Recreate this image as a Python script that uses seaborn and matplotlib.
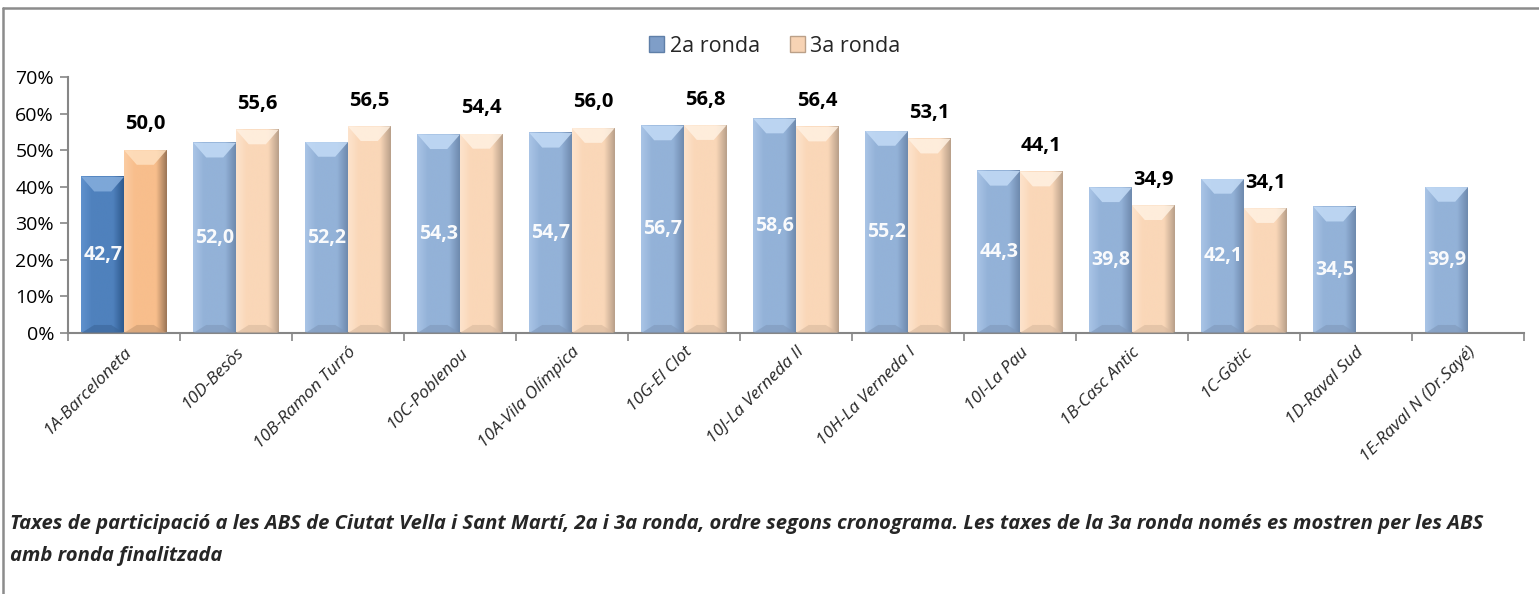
import numpy as np
import pandas as pd
import seaborn as sns
import matplotlib.pyplot as plt
from matplotlib.patches import Polygon, Patch
from matplotlib.lines import Line2D
from matplotlib.ticker import FixedLocator, FuncFormatter

# data
centres = ["1A-Barceloneta", "10D-Besòs", "10B-Ramon Turró", "10C-Poblenou",
           "10A-Vila Olímpica", "10G-El Clot", "10J-La Verneda II",
           "10H-La Verneda I", "10I-La Pau", "1B-Casc Antic", "1C-Gòtic",
           "1D-Raval Sud", "1E-Raval N (Dr.Sayé)"]
ronda2 = [42.7, 52.0, 52.2, 54.3, 54.7, 56.7, 58.6, 55.2, 44.3, 39.8, 42.1, 34.5, 39.9]
ronda3 = [50.0, 55.6, 56.5, 54.4, 56.0, 56.8, 56.4, 53.1, 44.1, 34.9, 34.1, np.nan, np.nan]
series = ["2a ronda", "3a ronda"]
yticks = [0, 10, 20, 30, 40, 50, 60, 70]
caption = ("Taxes de participació a les ABS de Ciutat Vella i Sant Martí, 2a i 3a ronda, "
           "ordre segons cronograma. Les taxes de la 3a ronda només es mostren per les ABS\n"
           "amb ronda finalitzada")

df = pd.DataFrame({
    "centre": centres * 2,
    "taxa": ronda2 + ronda3,
    "ronda": [series[0]] * len(centres) + [series[1]] * len(centres),
})

sns.set_theme(style="white")
plt.rcParams["font.family"] = ["Open Sans", "DejaVu Sans"]

W, H = 1539, 594
fig = plt.figure(figsize=(W / 100, H / 100), dpi=100)
ax = fig.add_axes([68 / W, 1 - 333 / H, (1524 - 68) / W, (333 - 77) / H])

sns.barplot(data=df, x="centre", y="taxa", hue="ronda", order=centres,
            hue_order=series, width=0.76, palette=["#95B3D7", "#FCD5B5"],
            ax=ax, legend=False)

# bevelled bar look: (main, light edge, dark edge, top, bottom)
tones = {
    "blue": ("#93B2D8", "#A9C4E6", "#6F8AAE", "#C3DBF6", "#7F98BA"),
    "blue_hi": ("#4F81BD", "#5F91CD", "#2E5A8E", "#86AEDD", "#3B6699"),
    "peach": ("#FAD7B8", "#FDE3CC", "#B9A08A", "#FFF1E2", "#D8B99E"),
    "peach_hi": ("#F8BE8C", "#FBCCA2", "#9C7657", "#FFE0BF", "#C99A72"),
}


def bevel(bar, key):
    main, light, dark, top, bottom = tones[key]
    x0, y0 = bar.get_x(), bar.get_y()
    w, h = bar.get_width(), bar.get_height()
    bar.set_visible(False)
    # horizontal shading across the bar
    cols = [light, main, main, main, dark]
    rgb = np.array([plt.matplotlib.colors.to_rgb(c) for c in cols])
    xs = np.linspace(0, 1, rgb.shape[0])
    xx = np.linspace(0, 1, 60)
    img = np.stack([np.interp(xx, xs, rgb[:, k]) for k in range(3)], axis=-1)[None, :, :]
    ax.imshow(img, extent=[x0, x0 + w, y0, y0 + h], aspect="auto",
              interpolation="bicubic", zorder=2)
    # bevel sizes in data units
    bx = w * 0.30
    by = min(h * 0.5, 4.0)
    ax.add_patch(Polygon([(x0, y0 + h), (x0 + w, y0 + h), (x0 + w - bx, y0 + h - by),
                          (x0 + bx, y0 + h - by)], closed=True, fc=top, ec="none",
                         alpha=0.85, zorder=3))
    ax.add_patch(Polygon([(x0, y0), (x0 + w, y0), (x0 + w - bx, y0 + 2.2),
                          (x0 + bx, y0 + 2.2)], closed=True, fc=bottom, ec="none",
                         alpha=0.6, zorder=3))


for i, bar in enumerate(ax.containers[0]):
    bevel(bar, "blue_hi" if i == 0 else "blue")
    v = ronda2[i]
    ax.text(bar.get_x() + bar.get_width() / 2, v / 2, f"{v:.1f}".replace(".", ","),
            ha="center", va="center", color="white", fontsize=14,
            fontweight="bold", alpha=0.95, zorder=5)

for i, bar in enumerate(ax.containers[1]):
    if np.isnan(bar.get_height()):
        continue
    bevel(bar, "peach_hi" if i == 0 else "peach")
    v = bar.get_height()
    ax.text(bar.get_x() + bar.get_width() / 2, v + 4.3, f"{v:.1f}".replace(".", ","),
            ha="center", va="bottom", color="black", fontsize=14.5,
            fontweight="bold", zorder=5)

ax.set_xlim(-0.5, len(centres) - 0.5)
ax.set_ylim(0, 70)
ax.set_yticks(yticks)
ax.yaxis.set_major_formatter(FuncFormatter(lambda v, p: f"{v:.0f}%"))
ax.set_xlabel("")
ax.set_ylabel("")
ax.tick_params(axis="y", which="major", direction="out", length=6, width=1.2,
               color="#868686", labelsize=14, labelcolor="black", pad=4, left=True)
ax.set_xticks(range(len(centres)))
ax.set_xticklabels(centres, rotation=45, ha="right", rotation_mode="anchor",
                   fontsize=12.5, fontstyle="italic")
ax.xaxis.set_minor_locator(FixedLocator(np.arange(-0.5, len(centres), 1)))
ax.tick_params(axis="x", which="major", length=0, pad=8)
ax.tick_params(axis="x", which="minor", direction="out", length=6, width=1.2,
               color="#868686", bottom=True)
for s in ["top", "right"]:
    ax.spines[s].set_visible(False)
for s in ["left", "bottom"]:
    ax.spines[s].set_color("#868686")
    ax.spines[s].set_linewidth(1.5)

handles = [Patch(facecolor="#7F9EC8", edgecolor="#5F7FA8"),
           Patch(facecolor="#F7D3B4", edgecolor="#BBA088")]
fig.legend(handles, series, loc="center", bbox_to_anchor=(775 / W, 1 - 46 / H),
           ncol=2, frameon=False, fontsize=15.5, handlelength=0.7, handleheight=0.7,
           handletextpad=0.25, columnspacing=1.4)

fig.text(10 / W, 1 - 514 / H, caption, ha="left", va="top", fontsize=14.6,
         fontweight="bold", fontstyle="italic", linespacing=1.8)

# outer frame (left and top edges)
fig.add_artist(Line2D([3 / W, 3 / W], [0, 1 - 8 / H], transform=fig.transFigure,
                      color="#8C8C8C", lw=1.8))
fig.add_artist(Line2D([3 / W, 1], [1 - 8 / H, 1 - 8 / H], transform=fig.transFigure,
                      color="#8C8C8C", lw=1.8))

fig.savefig("out.png", dpi=100)
